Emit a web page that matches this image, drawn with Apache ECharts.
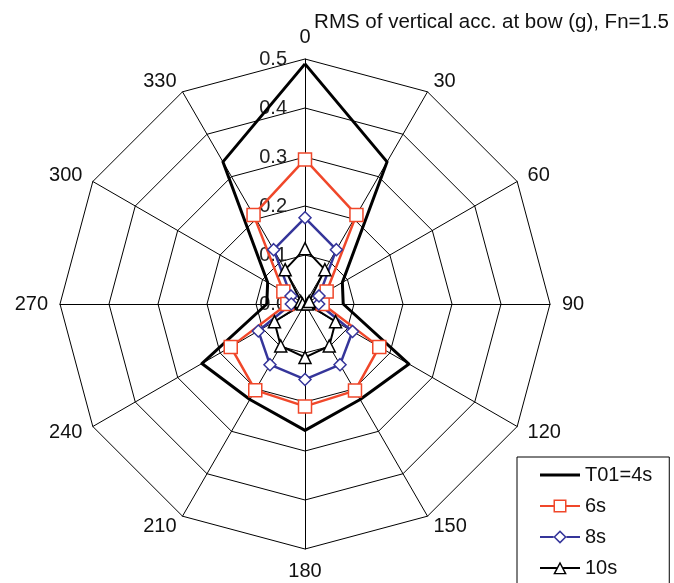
<!DOCTYPE html>
<html>
<head>
<meta charset="utf-8">
<script src="https://cdn.jsdelivr.net/npm/echarts@6/dist/echarts.min.js"></script>
<style>html,body{margin:0;padding:0;background:#fff}#c{width:674px;height:583px}</style>
</head>
<body>
<div id="c"></div>
<script>
// Heading angles (degrees), clockwise from top
const angles = [0, 30, 60, 90, 120, 150, 180, 210, 240, 270, 300, 330];
// RMS vertical acc. at bow (g), one value per heading angle above
const t4s  = [0.49, 0.335, 0.088, 0.078, 0.245, 0.225, 0.258, 0.225, 0.243, 0.078, 0.088, 0.335];
const t6s  = [0.295, 0.21, 0.051, 0.036, 0.175, 0.204, 0.209, 0.203, 0.175, 0.036, 0.051, 0.21];
const t8s  = [0.176, 0.128, 0.033, 0.028, 0.112, 0.143, 0.154, 0.143, 0.11, 0.028, 0.033, 0.128];
const t10s = [0.113, 0.081, 0.01, 0.005, 0.072, 0.099, 0.109, 0.099, 0.072, 0.005, 0.01, 0.081];
const seriesNames = ['T01=4s', '6s', '8s', '10s'];
const scaleMax = 0.5;
const titleText = 'RMS of vertical acc. at bow (g), Fn=1.5';

// ECharts radar runs counter-clockwise; reorder so the headings run clockwise
const order = angles.map((a, i) => (12 - i) % 12);
const reorder = arr => order.map(i => arr[i]);

const FONT = 'Liberation Sans, Arial, sans-serif';
const RED = '#f0472a', BLUE = '#35359a', BLACK = '#000';

const indicators = order.map((i, k) => {
  const ind = { name: String(angles[i]), min: 0, max: scaleMax };
  if (k === 0) ind.axisLabel = { show: true };
  return ind;
});

// legend icons (40 x 14 box, tiny corner specks fix the bounding box)
const corners = 'M0,0L0.05,0L0,0.05Z M40,14L39.95,14L40,13.95Z ';
const iconLine = 'path://' + corners + 'M0,5.5L40,5.5L40,8.5L0,8.5Z';
const iconSquare = 'path://' + corners +
  'M0,6L13.5,6L13.5,8L0,8Z M26.5,6L40,6L40,8L26.5,8Z ' +
  'M13.5,0.5L26.5,0.5L26.5,13.5L13.5,13.5Z M15,2L15,12L25,12L25,2Z';
const iconDiamond = 'path://' + corners +
  'M0,6L13.5,6L13.5,8L0,8Z M26.5,6L40,6L40,8L26.5,8Z ' +
  'M20,0.3L26.7,7L20,13.7L13.3,7Z M20,2.4L15.4,7L20,11.6L24.6,7Z';
const iconTriangle = 'path://' + corners +
  'M0,6L16.8,6L16.8,8L0,8Z M23.2,6L40,6L40,8L23.2,8Z ' +
  'M20,0.5L26.8,13.3L13.2,13.3Z M20,3.6L15.6,11.9L24.4,11.9Z';

const chart = echarts.init(document.getElementById('c'), null, { renderer: 'canvas' });
chart.setOption({
  animation: false,
  backgroundColor: '#fff',
  title: {
    text: titleText, right: 0, top: 7,
    textStyle: { fontFamily: FONT, fontSize: 20.5, fontWeight: 'normal', color: '#111' }
  },
  legend: {
    orient: 'vertical', left: 517, top: 457, height: 200,
    padding: [8, 17, 40, 23], itemGap: 11,
    itemWidth: 40, itemHeight: 14,
    borderColor: '#000', borderWidth: 1, borderRadius: 0,
    backgroundColor: '#fff',
    textStyle: { fontFamily: FONT, fontSize: 20, color: '#111' },
    data: [
      { name: seriesNames[0], icon: iconLine, itemStyle: { color: BLACK, borderWidth: 0 } },
      { name: seriesNames[1], icon: iconSquare, itemStyle: { color: RED, borderWidth: 0 } },
      { name: seriesNames[2], icon: iconDiamond, itemStyle: { color: BLUE, borderWidth: 0 } },
      { name: seriesNames[3], icon: iconTriangle, itemStyle: { color: BLACK, borderWidth: 0 } }
    ]
  },
  radar: {
    center: [305, 304], radius: 245, startAngle: 90,
    shape: 'polygon', splitNumber: 5,
    indicator: indicators,
    axisName: { color: '#111', fontFamily: FONT, fontSize: 20 },
    nameGap: 12,
    splitLine: { lineStyle: { color: '#000', width: 1 } },
    splitArea: { show: false },
    axisLine: { lineStyle: { color: '#000', width: 1 } },
    axisTick: { show: false },
    axisLabel: {
      show: false, color: '#222', fontFamily: FONT, fontSize: 20, margin: 18,
      formatter: v => Number(v).toFixed(1)
    }
  },
  series: [{
    type: 'radar',
    data: [
      { name: seriesNames[0], value: reorder(t4s), symbol: 'none',
        lineStyle: { color: BLACK, width: 3 }, itemStyle: { color: BLACK } },
      { name: seriesNames[1], value: reorder(t6s), symbol: 'rect', symbolSize: 13,
        lineStyle: { color: RED, width: 2.5 },
        itemStyle: { color: '#fff', borderColor: RED, borderWidth: 1.5 } },
      { name: seriesNames[2], value: reorder(t8s), symbol: 'diamond', symbolSize: 12,
        lineStyle: { color: BLUE, width: 2.5 },
        itemStyle: { color: '#fff', borderColor: BLUE, borderWidth: 1.5 } },
      { name: seriesNames[3], value: reorder(t10s), symbol: 'triangle', symbolSize: 12,
        lineStyle: { color: BLACK, width: 2 },
        itemStyle: { color: '#fff', borderColor: BLACK, borderWidth: 1.5 } }
    ]
  }]
});
</script>
</body>
</html>
